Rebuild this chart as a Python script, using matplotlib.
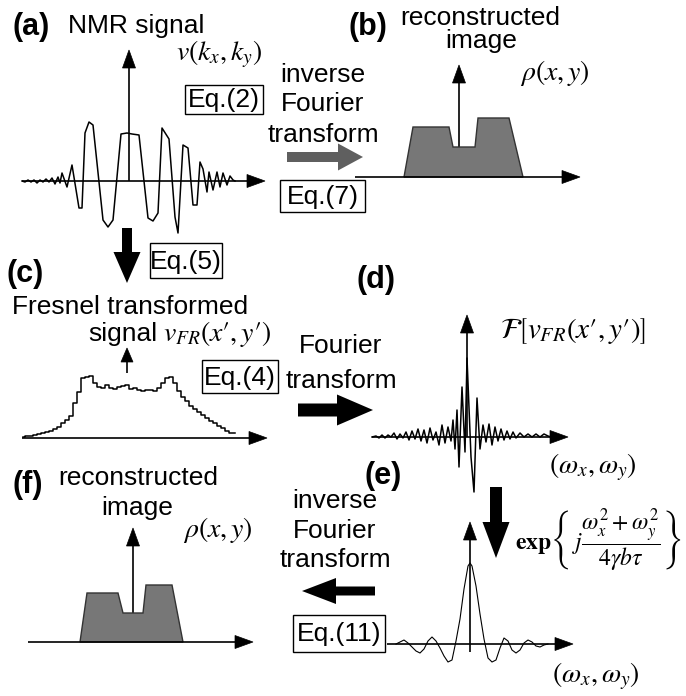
import numpy as np
import matplotlib
matplotlib.use('Agg')
import matplotlib.pyplot as plt
from matplotlib.patches import Polygon, Rectangle, FancyArrow

plt.rcParams['font.family'] = ['Liberation Sans', 'DejaVu Sans']
plt.rcParams['mathtext.fontset'] = 'stix'

# ---- data (px, amplitude up = +) ----
# (a) NMR signal, x relative to the vertical axis
nmr_x = [-107, -104, -101, -98, -95, -92, -89, -86, -83, -80, -77, -74, -71, -69,
         -67, -62, -57, -50, -47, -44, -40, -36, -26, -21, -16, -8, -2, 3, 10,
         19, 24, 29, 33, 40, 46, 49, 54, 59, 64, 68, 71, 74, 78, 80, 84, 88,
         91, 94, 98, 101, 104, 106]
nmr_amp = [0, -1, 1, -1, 1, -2, 1, -1, 2, -1, 3, -3, 4, -2,
           8, -6, 16, -27, -27, 48, 59, 56, -39, -46, -39, 47, 48, 47, 46,
           -37, -40, -32, 53, 42, -36, -52, 36, 33, -24, -24, 19, 12, -11, 9, -9, 9,
           -6, 8, -4, 5, 1, 0]

# (c) Fresnel transformed signal, x relative to the small arrow
fres_x = [-104, -100, -96, -92, -88, -84, -80, -76, -72, -68, -64, -60, -56, -52,
          -48, -44, -40, -36, -32, -28, -24, -20, -16, -12, -8, -4, 0, 4, 8, 12,
          16, 20, 24, 28, 32, 36, 40, 44, 48, 52, 56, 60, 64, 68, 72, 76, 80,
          84, 88, 92, 96, 100, 104, 108]
fres_amp = [1, 2, 2, 3, 4, 5, 6, 7, 9, 11, 15, 18, 22, 35,
            46, 60, 61, 62, 55, 51, 50, 53, 50, 49, 51, 52, 53, 49, 50, 48,
            47, 48, 48, 47, 50, 55, 60, 61, 55, 47, 41, 37, 32, 29, 26, 23, 20,
            17, 15, 12, 10, 7, 5, 5]

# (d) Fourier transform of Fresnel signal, x relative to vertical axis
ft_x = [-95, -91, -88, -85, -82, -79, -76, -73, -70, -67, -64, -61, -58, -55,
        -52, -49, -46, -43, -40, -37, -34, -31, -28, -25, -22, -19, -16, -14,
        -12, -10, -8, -5, -2, 0, 4, 7, 10, 13, 16, 19, 22, 25, 28, 31, 34, 37,
        40, 43, 46, 49, 53, 57, 61, 65, 69, 73, 77, 81, 84]
ft_amp = [0, 1, -1, 2, -1, 2, 0, 4, -2, 3, -1, 5, -3, 6,
          -2, 8, -4, 7, -6, 9, -3, 5, -8, 12, -6, 10, -4, 17,
          -12, 27, -30, 50, -15, 79, -20, -55, 39, -12, 12, -5, 13, -8, 10, -4, 8, -3,
          6, -2, 5, -1, 4, 0, 3, 0, 3, 0, 3, 1, 0]

# (e) after phase factor: sinc-like, x relative to vertical axis
sinc_x = [-74, -70, -66, -62, -58, -54, -50, -46, -42, -38, -34, -30, -26, -22,
          -18, -14, -10, -6, -2, 0, 2, 6, 10, 14, 18, 22, 26, 30, 34, 38, 42,
          46, 50, 54, 58, 62, 66, 70, 74, 78]
sinc_amp = [0, 2, 4, 1, -3, -7, -9, -5, 3, 7, 3, -4, -12, -18,
            -16, 3, 25, 55, 78, 81, 78, 58, 30, 5, -14, -18, -16, -4, 6, 3, -6,
            -9, -6, 1, 4, 2, -2, -3, -1, 0]

# reconstructed image profile (b) and (f), x relative to vertical axis
img_b_x = [-55, -46, -10, -6, 16, 19, 50, 64]
img_b_h = [0, 50, 50, 30, 30, 59, 59, 0]
img_f_x = [-53, -46, -15, -10, 10, 13, 39, 50]
img_f_h = [0, 49, 49, 29, 29, 57, 57, 0]

W, H = 686, 696
fig = plt.figure(figsize=(W / 100, H / 100), dpi=100)
ax = fig.add_axes([0, 0, 1, 1])
ax.set_xlim(0, W)
ax.set_ylim(H, 0)
ax.axis('off')

FS = 19     # sans text
FL = 22     # panel labels
FM = 20     # math


def axis_arrow(x0, y0, x1, y1, hl=18, hw=13, lw=1.2):
    d = np.array([x1 - x0, y1 - y0], float)
    u = d / np.hypot(*d)
    n = np.array([-u[1], u[0]])
    base = np.array([x1, y1]) - u * hl
    ax.plot([x0, base[0]], [y0, base[1]], color='k', lw=lw, solid_capstyle='butt')
    ax.add_patch(Polygon([(x1, y1), base + n * hw / 2, base - n * hw / 2],
                         closed=True, fc='k', ec='k', lw=0.5, zorder=3))


def block_arrow(x0, y0, x1, y1, w, hw, hl, c='k'):
    ax.add_patch(FancyArrow(x0, y0, x1 - x0, y1 - y0, width=w, head_width=hw,
                            head_length=hl, length_includes_head=True,
                            fc=c, ec=c, lw=0))


def eq_box(x0, y0, x1, y1, s):
    ax.add_patch(Rectangle((x0, y0), x1 - x0, y1 - y0, fill=False, ec='k', lw=1.0))
    ax.text((x0 + x1) / 2, (y0 + y1) / 2 + 1, s, fontsize=FS, ha='center', va='center')


def stacked(cx, baselines, lines):
    for b, s in zip(baselines, lines):
        ax.text(cx, b, s, fontsize=FS, ha='center', va='baseline')


# ---- (a) NMR signal ----
a0x, a0y = 129, 181
ax.plot(a0x + np.array(nmr_x), a0y - np.array(nmr_amp), color='k', lw=1.1)
axis_arrow(22, a0y, 265, a0y)
axis_arrow(a0x, a0y, a0x, 50)
ax.text(13, 35, '(a)', fontsize=FL, fontweight='bold', va='baseline')
ax.text(68, 33, 'NMR signal', fontsize=FS, va='baseline')
ax.text(176, 60, r'$v(k_x,k_y)$', fontsize=FM, va='baseline')
eq_box(185, 85, 263, 114, 'Eq.(2)')

# ---- (a) -> (b) ----
stacked(323, [82, 111, 142], ['inverse', 'Fourier', 'transform'])
block_arrow(287, 157, 363, 157, 10, 27, 25, c='#5f5f5f')
eq_box(280, 180, 365, 212, 'Eq.(7)')

# ---- (b) reconstructed image ----
b0x, b0y = 459, 177
axis_arrow(b0x, b0y, b0x, 65)
ax.add_patch(Polygon(np.column_stack([b0x + np.array(img_b_x), b0y - np.array(img_b_h)]),
                     closed=True, fc='#777777', ec='#333333', lw=1.0, zorder=2))
axis_arrow(355, b0y, 580, b0y)
ax.text(348, 35, '(b)', fontsize=FL, fontweight='bold', va='baseline')
ax.text(480, 25, 'reconstructed', fontsize=FS, ha='center', va='baseline')
ax.text(481, 48, 'image', fontsize=FS, ha='center', va='baseline')
ax.text(520, 80, r'$\rho(x,y)$', fontsize=FM, va='baseline')

# ---- (a) -> (c) ----
block_arrow(127, 228, 127, 283, 10, 27, 31)
eq_box(150, 243, 222, 278, 'Eq.(5)')

# ---- (c) Fresnel transformed signal ----
c0x, c0y = 127, 438
ax.plot(c0x + np.array(fres_x), c0y - np.array(fres_amp), color='k', lw=1.1,
        drawstyle='steps-mid')
axis_arrow(22, c0y, 267, c0y)
axis_arrow(c0x, 373, c0x, 348, hl=14, hw=12)
ax.text(7, 282, '(c)', fontsize=FL, fontweight='bold', va='baseline')
ax.text(12, 314, 'Fresnel transformed', fontsize=FS, va='baseline')
ax.text(157, 341, 'signal', fontsize=FS, ha='right', va='baseline')
ax.text(163, 341, '$v_{FR}(x\u2032,y\u2032)$', fontsize=FM, va='baseline')
eq_box(202, 360, 278, 393, 'Eq.(4)')

# ---- (c) -> (d) ----
stacked(341, [353, 388], ['Fourier', 'transform'])
block_arrow(298, 410, 373, 410, 13, 31, 36)

# ---- (d) Fourier transform ----
d0x, d0y = 467, 437
ax.plot(d0x + np.array(ft_x), d0y - np.array(ft_amp), color='k', lw=1.1)
axis_arrow(372, d0y, 568, d0y)
axis_arrow(d0x, d0y, d0x, 315)
ax.text(357, 288, '(d)', fontsize=FL, fontweight='bold', va='baseline')
ax.text(500, 338, '$\\mathcal{F}\\left[v_{FR}(x\u2032,y\u2032)\\right]$',
        fontsize=FM + 1, va='baseline')
ax.text(549, 473, r'$(\omega_x,\omega_y)$', fontsize=FM, va='baseline')

# ---- (d) -> (e) ----
block_arrow(496, 487, 496, 558, 12, 27, 36)
ax.text(515, 541, r'$\mathbf{exp}\left\{\,j\dfrac{\omega_x^{2}+\omega_y^{2}}{4\gamma b\tau}\right\}$',
        fontsize=17, va='center')

# ---- (e) ----
e0x, e0y = 470, 644
ax.plot(e0x + np.array(sinc_x), e0y - np.array(sinc_amp), color='k', lw=0.8)
axis_arrow(387, e0y, 573, e0y)
axis_arrow(e0x, 652, e0x, 522)
ax.text(364, 484, '(e)', fontsize=FL, fontweight='bold', va='baseline')
ax.text(552, 682, r'$(\omega_x,\omega_y)$', fontsize=FM, va='baseline')

# ---- (e) -> (f) ----
stacked(335, [508, 538, 567], ['inverse', 'Fourier', 'transform'])
block_arrow(375, 591, 302, 591, 9, 26, 34)
eq_box(293, 615, 385, 652, 'Eq.(11)')

# ---- (f) reconstructed image ----
f0x, f0y = 133, 642
axis_arrow(f0x, f0y, f0x, 528)
ax.add_patch(Polygon(np.column_stack([f0x + np.array(img_f_x), f0y - np.array(img_f_h)]),
                     closed=True, fc='#777777', ec='#333333', lw=1.0, zorder=2))
axis_arrow(28, f0y, 253, f0y)
ax.text(13, 493, '(f)', fontsize=FL, fontweight='bold', va='baseline')
ax.text(58, 485, 'reconstructed', fontsize=FS, va='baseline')
ax.text(137, 515, 'image', fontsize=FS, ha='center', va='baseline')
ax.text(183, 537, r'$\rho(x,y)$', fontsize=FM, va='baseline')

fig.savefig('out.png', dpi=100)
